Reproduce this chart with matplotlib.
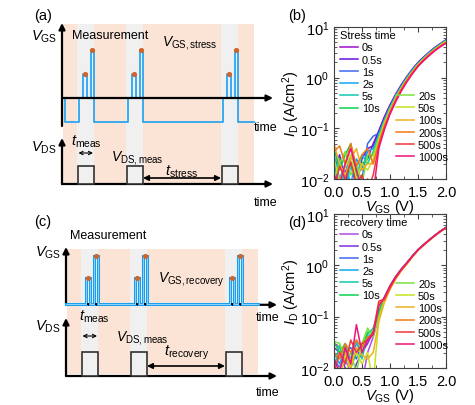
import matplotlib
matplotlib.use("Agg")
import matplotlib.pyplot as plt
from matplotlib.patches import Rectangle
from matplotlib.ticker import MultipleLocator, LogLocator, NullFormatter

plt.rcParams["font.family"] = ["Liberation Sans", "DejaVu Sans"]
plt.rcParams["mathtext.fontset"] = "custom"
plt.rcParams["mathtext.rm"] = "Liberation Sans"
plt.rcParams["mathtext.it"] = "Liberation Sans:italic"
plt.rcParams["mathtext.bf"] = "Liberation Sans:bold"

# ---- data -------------------------------------------------------------
V_GS = [0.0, 0.1, 0.2, 0.3, 0.4, 0.5, 0.6, 0.7, 0.8, 0.9, 1.0,
        1.1, 1.2, 1.3, 1.4, 1.5, 1.6, 1.7, 1.8, 1.9, 2.0]

times = ["0s", "0.5s", "1s", "2s", "5s", "10s",
         "20s", "50s", "100s", "200s", "500s", "1000s"]

colors_b = ["#A010C8", "#6A10E0", "#3A6AF0", "#10A8F0", "#10C8B0", "#10D050",
            "#7AE040", "#C8E020", "#F0B020", "#F07A10", "#F03838", "#F01478"]
colors_d = ["#B04CE0", "#7A30E0", "#3A6AF0", "#10A8F0", "#10C8B0", "#10D050",
            "#7AE040", "#C8E020", "#F0B020", "#F07A10", "#F03838", "#F01478"]

# (b) I_D vs V_GS after stress (A/cm^2)
id_stress = [
    [0.020, 0.008, 0.015, 0.006, 0.012, 0.018, 0.025, 0.05, 0.09, 0.17, 0.29, 0.47, 0.72, 1.05, 1.48, 2.00, 2.55, 3.20, 3.95, 4.70, 5.60],
    [0.015, 0.030, 0.009, 0.020, 0.007, 0.025, 0.040, 0.045, 0.085, 0.16, 0.28, 0.45, 0.70, 1.02, 1.45, 1.95, 2.50, 3.15, 3.90, 4.65, 5.50],
    [0.008, 0.020, 0.012, 0.030, 0.015, 0.010, 0.050, 0.07, 0.08, 0.15, 0.27, 0.44, 0.68, 1.00, 1.42, 1.92, 2.45, 3.10, 3.85, 4.60, 5.45],
    [0.030, 0.010, 0.020, 0.008, 0.025, 0.015, 0.035, 0.04, 0.075, 0.145, 0.26, 0.43, 0.66, 0.98, 1.40, 1.90, 2.42, 3.05, 3.80, 4.55, 5.40],
    [0.012, 0.025, 0.006, 0.018, 0.010, 0.030, 0.020, 0.035, 0.07, 0.14, 0.25, 0.42, 0.65, 0.96, 1.37, 1.87, 2.40, 3.00, 3.75, 4.50, 5.35],
    [0.040, 0.015, 0.030, 0.050, 0.012, 0.020, 0.025, 0.03, 0.068, 0.135, 0.245, 0.41, 0.64, 0.95, 1.35, 1.85, 2.38, 2.98, 3.70, 4.45, 5.30],
    [0.010, 0.020, 0.035, 0.012, 0.020, 0.008, 0.030, 0.03, 0.065, 0.13, 0.24, 0.40, 0.62, 0.93, 1.33, 1.82, 2.35, 2.95, 3.65, 4.40, 5.20],
    [0.025, 0.009, 0.018, 0.030, 0.010, 0.020, 0.015, 0.025, 0.06, 0.125, 0.23, 0.39, 0.61, 0.91, 1.31, 1.80, 2.32, 2.92, 3.60, 4.35, 5.15],
    [0.050, 0.020, 0.012, 0.025, 0.040, 0.015, 0.020, 0.02, 0.055, 0.12, 0.22, 0.38, 0.60, 0.89, 1.28, 1.77, 2.28, 2.88, 3.55, 4.30, 5.05],
    [0.035, 0.045, 0.020, 0.050, 0.018, 0.030, 0.040, 0.02, 0.05, 0.11, 0.21, 0.36, 0.58, 0.87, 1.25, 1.73, 2.24, 2.83, 3.50, 4.22, 4.95],
    [0.006, 0.018, 0.010, 0.022, 0.008, 0.012, 0.006, 0.012, 0.045, 0.10, 0.20, 0.35, 0.56, 0.85, 1.22, 1.70, 2.20, 2.78, 3.45, 4.15, 4.85],
    [0.012, 0.008, 0.020, 0.040, 0.015, 0.006, 0.010, 0.005, 0.04, 0.095, 0.19, 0.33, 0.54, 0.82, 1.19, 1.66, 2.15, 2.72, 3.38, 4.08, 4.75],
]

# (d) I_D vs V_GS after recovery (A/cm^2)
id_recovery = [
    [0.030, 0.025, 0.015, 0.008, 0.005, 0.005, 0.020, 0.04, 0.10, 0.21, 0.37, 0.57, 0.81, 1.10, 1.50, 2.00, 2.50, 3.10, 3.80, 4.60, 5.40],
    [0.025, 0.020, 0.010, 0.005, 0.012, 0.020, 0.030, 0.05, 0.11, 0.22, 0.38, 0.58, 0.82, 1.10, 1.50, 2.00, 2.50, 3.10, 3.80, 4.60, 5.40],
    [0.015, 0.010, 0.020, 0.025, 0.015, 0.030, 0.035, 0.045, 0.12, 0.23, 0.39, 0.59, 0.83, 1.12, 1.52, 2.02, 2.52, 3.12, 3.82, 4.62, 5.42],
    [0.020, 0.012, 0.025, 0.015, 0.030, 0.020, 0.040, 0.05, 0.11, 0.22, 0.38, 0.58, 0.82, 1.10, 1.50, 2.00, 2.50, 3.10, 3.80, 4.60, 5.40],
    [0.010, 0.028, 0.012, 0.020, 0.035, 0.015, 0.045, 0.06, 0.13, 0.24, 0.40, 0.60, 0.84, 1.12, 1.52, 2.02, 2.52, 3.12, 3.82, 4.62, 5.45],
    [0.032, 0.020, 0.030, 0.010, 0.020, 0.025, 0.050, 0.05, 0.12, 0.23, 0.39, 0.59, 0.83, 1.11, 1.51, 2.01, 2.51, 3.11, 3.81, 4.61, 5.40],
    [0.033, 0.030, 0.015, 0.020, 0.008, 0.030, 0.060, 0.04, 0.10, 0.21, 0.36, 0.56, 0.80, 1.08, 1.48, 1.98, 2.48, 3.08, 3.78, 4.58, 5.38],
    [0.005, 0.010, 0.008, 0.015, 0.020, 0.012, 0.020, 0.005, 0.09, 0.20, 0.35, 0.55, 0.79, 1.07, 1.47, 1.97, 2.47, 3.07, 3.77, 4.57, 5.37],
    [0.012, 0.005, 0.020, 0.010, 0.025, 0.018, 0.015, 0.02, 0.08, 0.19, 0.34, 0.54, 0.78, 1.06, 1.46, 1.96, 2.46, 3.06, 3.76, 4.56, 5.36],
    [0.020, 0.015, 0.030, 0.020, 0.035, 0.025, 0.040, 0.045, 0.18, 0.21, 0.36, 0.56, 0.80, 1.08, 1.48, 1.98, 2.48, 3.08, 3.78, 4.58, 5.40],
    [0.008, 0.020, 0.012, 0.035, 0.020, 0.030, 0.035, 0.05, 0.20, 0.22, 0.37, 0.57, 0.81, 1.09, 1.49, 1.99, 2.49, 3.09, 3.79, 4.59, 5.42],
    [0.015, 0.008, 0.025, 0.012, 0.070, 0.020, 0.035, 0.045, 0.16, 0.24, 0.40, 0.60, 0.84, 1.12, 1.52, 2.02, 2.52, 3.12, 3.82, 4.62, 5.45],
]

# measurement windows of the pulse schematics (relative to the V axis)
meas_start = [15, 64, 159]
meas_width = 17

PINK = "#FBE4D6"
GRAY = "#F0F0F0"
BLUE = "#18A0F0"
DOT = "#D2642A"

fig = plt.figure(figsize=(4.75, 4.06), dpi=100)

# pixel-space canvas for the schematics
ax0 = fig.add_axes([0, 0, 1, 1])
ax0.set_xlim(0, 475)
ax0.set_ylim(406, 0)
ax0.axis("off")


def arrow(x1, y1, x2, y2, style="-|>", lw=1.6, ms=9):
    ax0.annotate("", xy=(x2, y2), xytext=(x1, y1),
                 arrowprops=dict(arrowstyle=style, color="black", lw=lw,
                                 mutation_scale=ms, shrinkA=0, shrinkB=0))


def scheme(x0, top, bot, gs0, gs_tip, gs_low, h_small, h_big, neg,
           ds0, ds_tip, ds_h, recovery=False):
    ax0.add_patch(Rectangle((x0 + 1, top), 191, bot - top, color=PINK, lw=0, zorder=0))
    for b in meas_start:
        ax0.add_patch(Rectangle((x0 + b, top), meas_width, bot - top,
                                color=GRAY, lw=0, zorder=0.5))
    # V_GS waveform
    if recovery:
        px, py = [x0], [gs0]
        off_s, off_b = 5, 13
    else:
        px, py = [x0, x0 + 2.5, x0 + 2.5], [gs0, gs0, neg]
        off_s, off_b = 6, 13.5
    for b in meas_start:
        xb = x0 + b
        if not recovery:
            px += [xb + 1.5, xb + 1.5]
            py += [neg, gs0]
        px += [xb + off_s, xb + off_s, xb + off_s + 4, xb + off_s + 4,
               xb + off_b, xb + off_b, xb + 17, xb + 17]
        py += [gs0, gs0 - h_small, gs0 - h_small, gs0,
               gs0, gs0 - h_big, gs0 - h_big, gs0 if recovery else neg]
    px.append(x0 + 192)
    py.append(gs0 if recovery else neg)

    arrow(x0, gs_low, x0, gs_tip)
    arrow(x0, ds0, x0, ds_tip)
    if recovery:
        arrow(x0, gs0 + 0.8, x0 + 211, gs0 + 0.8)
        ax0.plot(px, py, color=BLUE, lw=2.2, zorder=3, solid_joinstyle="miter")
        ax0.plot(px, py, color="#BEE6FF", lw=0.5, zorder=3.1)
    else:
        ax0.plot(px, py, color=BLUE, lw=1.2, zorder=2)
        arrow(x0, gs0, x0 + 211, gs0)
    arrow(x0, ds0, x0 + 211, ds0)

    for b in meas_start:
        xb = x0 + b
        cs, cb = xb + off_s + 2, xb + (off_b + 17) / 2
        ax0.scatter([cs, cb], [gs0 - h_small, gs0 - h_big], s=14, color=DOT,
                    zorder=5, lw=0)
        ax0.scatter([cs, cb], [gs0, gs0], s=3, color="black", zorder=5,
                    lw=0, marker="s")
        ax0.add_patch(Rectangle((xb + 1, ds0 - ds_h), 16, ds_h, facecolor=GRAY,
                                edgecolor="#303030", lw=1.2, zorder=3))

    return [x0 + b for b in meas_start]


# ---- (a) stress schematic ---------------------------------------------
b0, b1, b2 = scheme(62, 25, 185, 99, 24, 127, 24, 48, 123, 185, 139, 18)
arrow(b0 + 1.5, 154, b0 + 16, 154, style="<->", lw=0.8, ms=6)
arrow(b1 + 17, 179, b2, 179, style="<|-|>", lw=1.2, ms=8)
ax0.text(34, 16, "(a)", fontsize=10.5, va="center")
ax0.text(31, 37, r"$V_{\mathrm{GS}}$", fontsize=10.5, va="center")
ax0.text(72, 36, "Measurement", fontsize=9, va="center")
ax0.text(162, 43, r"$V_{\mathrm{GS,stress}}$", fontsize=10, va="center")
ax0.text(254, 128, "time", fontsize=9, va="center")
ax0.text(31, 148, r"$V_{\mathrm{DS}}$", fontsize=10.5, va="center")
ax0.text(71, 142, r"$t_{\mathrm{meas}}$", fontsize=10.5, va="center")
ax0.text(111, 158, r"$V_{\mathrm{DS,meas}}$", fontsize=10, va="center")
ax0.text(165, 172, r"$t_{\mathrm{stress}}$", fontsize=10.5, va="center")
ax0.text(254, 203, "time", fontsize=9, va="center")

# ---- (c) recovery schematic -------------------------------------------
b0, b1, b2 = scheme(66, 250, 375, 305, 248, 305, 26, 48, None, 377, 319, 24,
                    recovery=True)
arrow(b0 + 1.5, 337, b0 + 16, 337, style="<->", lw=0.8, ms=6)
arrow(b1 + 17, 367, b2, 367, style="<|-|>", lw=1.2, ms=8)
ax0.text(34, 222, "(c)", fontsize=10.5, va="center")
ax0.text(70, 236, "Measurement", fontsize=9, va="center")
ax0.text(35, 253, r"$V_{\mathrm{GS}}$", fontsize=10.5, va="center")
ax0.text(158, 280, r"$V_{\mathrm{GS,recovery}}$", fontsize=10, va="center")
ax0.text(256, 318, "time", fontsize=9, va="center")
ax0.text(79, 317, r"$t_{\mathrm{meas}}$", fontsize=10.5, va="center")
ax0.text(35, 327, r"$V_{\mathrm{DS}}$", fontsize=10.5, va="center")
ax0.text(116, 338, r"$V_{\mathrm{DS,meas}}$", fontsize=10, va="center")
ax0.text(164, 353, r"$t_{\mathrm{recovery}}$", fontsize=10.5, va="center")
ax0.text(256, 393, "time", fontsize=9, va="center")


# ---- transfer curves ----------------------------------------------------
def curves(rect, data, colors, title):
    ax = fig.add_axes(rect)
    lines = []
    for vals, c, t in zip(data, colors, times):
        ln, = ax.plot(V_GS, vals, color=c, lw=1.1, label=t)
        lines.append(ln)
    ax.set_yscale("log")
    ax.set_xlim(0, 2.0)
    ax.set_ylim(0.01, 10)
    ax.xaxis.set_minor_locator(MultipleLocator(0.25))
    ax.yaxis.set_major_locator(LogLocator(base=10, numticks=5))
    ax.yaxis.set_minor_locator(LogLocator(base=10, subs=range(2, 10), numticks=5))
    ax.yaxis.set_minor_formatter(NullFormatter())
    ax.set_xticks([0.0, 0.5, 1.0, 1.5, 2.0])
    ax.set_xticklabels(["0.0", "0.5", "1.0", "1.5", "2.0"])
    ax.tick_params(which="both", direction="in", top=True, right=True,
                   labelsize=10.5, color="#404040")
    ax.tick_params(axis="x", pad=4)
    ax.tick_params(axis="y", pad=3.5)
    ax.tick_params(which="major", length=3.5, width=0.8)
    ax.tick_params(which="minor", length=2, width=0.6)
    for sp in ax.spines.values():
        sp.set_color("#404040")
        sp.set_linewidth(0.8)
    ax.set_xlabel(r"$V_{\mathrm{GS}}$ (V)", fontsize=10.5, labelpad=-1)
    ax.set_ylabel(r"$I_{\mathrm{D}}$ (A/cm$^2$)", fontsize=10.5, labelpad=-2)

    kw = dict(frameon=False, fontsize=7.9, handlelength=1.7, handletextpad=0.35,
              labelspacing=0.2, borderpad=0.2, borderaxespad=0.1)
    leg1 = ax.legend(lines[:6], times[:6], title=title, title_fontsize=8,
                     loc="upper left", bbox_to_anchor=(0.02, 1.0),
                     alignment="left", **kw)
    ax.add_artist(leg1)
    ax.legend(lines[6:], times[6:], loc="upper left",
              bbox_to_anchor=(0.52, 0.6), **kw)
    return ax


ax_b = curves([334 / 475, 1 - 180 / 406, 112 / 475, 152 / 406],
              id_stress, colors_b, "Stress time")
ax_d = curves([334 / 475, 1 - 369 / 406, 112 / 475, 154 / 406],
              id_recovery, colors_d, "recovery time")
ax0.text(288, 16, "(b)", fontsize=10.5, va="center")
ax0.text(288, 223, "(d)", fontsize=10.5, va="center")

fig.savefig("out.png", dpi=100)
